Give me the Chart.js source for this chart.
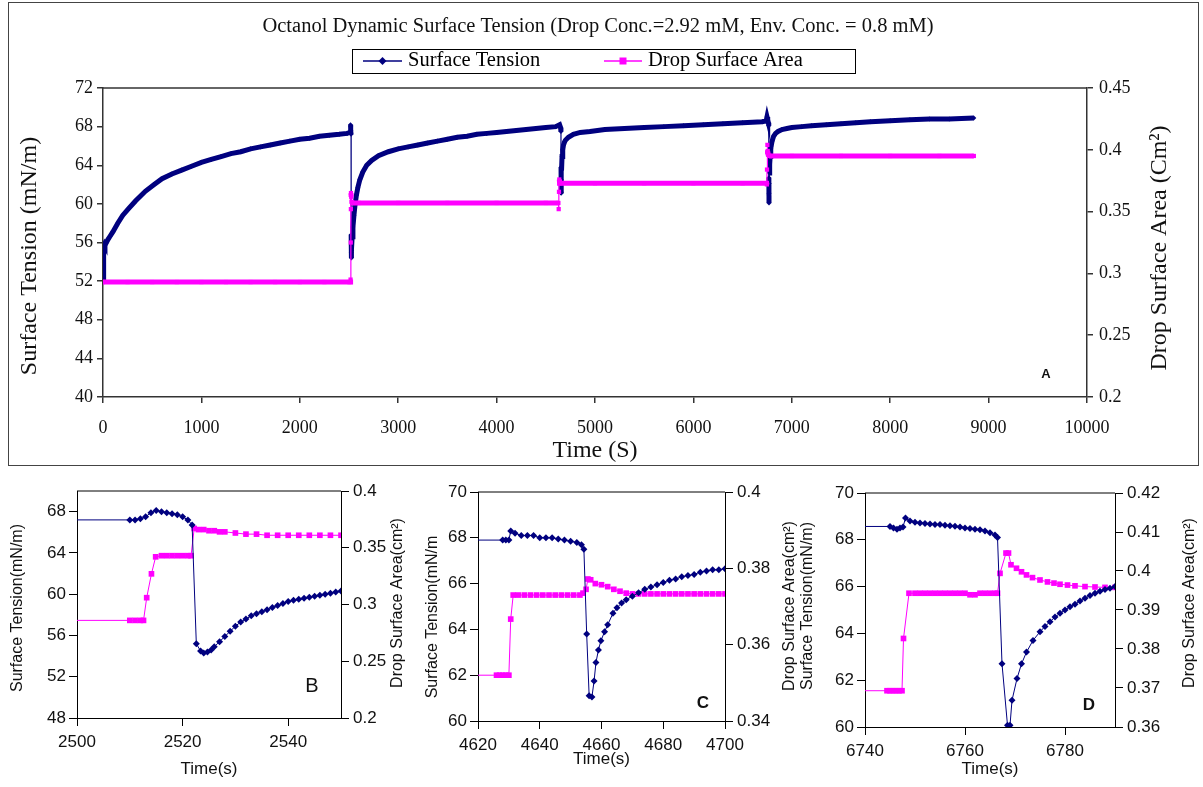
<!DOCTYPE html>
<html>
<head>
<meta charset="utf-8">
<script src="https://cdn.jsdelivr.net/npm/chart.js@4.4.1/dist/chart.umd.min.js"></script>
<style>
  html, body { margin: 0; padding: 0; background: #fff; }
  body { width: 1203px; height: 787px; position: relative; overflow: hidden; }
  #frame { position: absolute; left: 8px; top: 2px; width: 1189px; height: 462px; border: 1px solid #444; }
  canvas { position: absolute; }
</style>
</head>
<body>
<div id="frame"></div>
<canvas id="main" width="1189" height="462" style="left:9px;top:3px"></canvas>
<canvas id="panelB" width="410" height="317" style="left:0px;top:470px"></canvas>
<canvas id="panelC" width="395" height="317" style="left:410px;top:470px"></canvas>
<canvas id="panelD" width="413" height="317" style="left:790px;top:470px"></canvas>
<script>
// ---------- full run: surface tension (mN/m) and drop surface area (cm^2) vs time (s) ----------
const mainTime = [0, 3, 6, 10, 15, 20, 30, 50, 75, 100, 150, 200, 260, 330, 430, 520, 600, 700, 800, 900,
  1000, 1100, 1200, 1300, 1400, 1500, 1600, 1700, 1800, 1900, 2000, 2100, 2200, 2300, 2400, 2480,
  2512, 2515, 2517, 2519, 2521, 2522, 2523, 2524, 2527, 2532, 2540, 2550, 2560, 2575, 2590, 2610,
  2640, 2680, 2730, 2800, 2900, 3000, 3100, 3200, 3300, 3400, 3500, 3600, 3700, 3800, 3900, 4000,
  4100, 4200, 4300, 4400, 4500, 4600, 4640, 4650, 4654, 4655, 4656, 4657, 4658, 4660, 4665, 4672,
  4680, 4690, 4700, 4730, 4780, 4850, 4950, 5100, 5300, 5500, 5700, 5900, 6100, 6300, 6500, 6700,
  6740, 6748, 6755, 6762, 6766, 6767, 6768.5, 6769, 6770, 6772, 6775, 6780, 6786, 6790, 6800, 6815,
  6835, 6860, 6900, 6950, 7000, 7100, 7200, 7350, 7500, 7650, 7800, 8000, 8200, 8400, 8600, 8850];
const mainTension = [52.2, 53.3, 54.5, 55.6, 55.8, 55.7, 55.9, 56.3, 56.7, 57.1, 58.0, 58.8, 59.5, 60.3, 61.3, 62.0, 62.6, 63.1, 63.5, 63.9,
  64.3, 64.6, 64.9, 65.2, 65.4, 65.7, 65.9, 66.1, 66.3, 66.5, 66.7, 66.8, 67.0, 67.1, 67.2, 67.3,
  67.4, 68.2, 68.0, 67.6, 67.2, 56.8, 55.0, 54.4, 55.2, 56.6, 57.6, 58.8, 59.8, 60.9, 61.7, 62.5,
  63.3, 64.0, 64.5, 65.0, 65.4, 65.7, 65.9, 66.1, 66.3, 66.5, 66.7, 66.9, 67.0, 67.2, 67.3, 67.4,
  67.5, 67.6, 67.7, 67.8, 67.9, 68.0, 68.2, 67.9, 67.5, 63.8, 61.1, 61.2, 62.5, 63.5, 64.9, 65.6,
  66.1, 66.4, 66.6, 66.9, 67.2, 67.4, 67.5, 67.7, 67.8, 67.9, 68.0, 68.1, 68.2, 68.3, 68.4, 68.5,
  68.6, 69.0, 68.7, 68.4, 68.1, 62.7, 60.1, 61.1, 62.1, 63.2, 64.1, 64.9, 65.7, 66.0, 66.5, 67.0,
  67.3, 67.5, 67.7, 67.8, 67.9, 68.0, 68.1, 68.2, 68.3, 68.4, 68.5, 68.6, 68.7, 68.8, 68.8, 68.9];

const mainAreaTime = [0, 250, 500, 750, 1000, 1250, 1500, 1750, 2000, 2250, 2500, 2514, 2516, 2518, 2519,
  2520, 2522, 2525, 2540, 2600, 3000, 3500, 4000, 4500, 4628, 4631, 4634, 4637, 4640, 4660, 5000,
  5500, 6000, 6500, 6745, 6747, 6748, 6750, 6752, 6755, 6760, 6780, 7000, 7500, 8000, 8500, 8850];
const mainArea = [0.293, 0.293, 0.293, 0.293, 0.293, 0.293, 0.293, 0.293, 0.293, 0.293, 0.293, 0.293, 0.295, 0.325, 0.352,
  0.365, 0.362, 0.358, 0.357, 0.357, 0.357, 0.357, 0.357, 0.357, 0.357, 0.352, 0.366, 0.376, 0.373, 0.373, 0.373,
  0.373, 0.373, 0.373, 0.373, 0.372, 0.384, 0.398, 0.404, 0.399, 0.396, 0.395, 0.395, 0.395, 0.395, 0.395, 0.395];

const mainTimeTicks = [0, 1000, 2000, 3000, 4000, 5000, 6000, 7000, 8000, 9000, 10000];
const mainTensionTicks = [40, 44, 48, 52, 56, 60, 64, 68, 72];
const mainAreaTicks = [0.2, 0.25, 0.3, 0.35, 0.4, 0.45];

// ---------- B: first expansion, around 2520 s ----------
const bTime = [2500, 2510, 2511, 2512, 2513, 2514, 2515, 2516, 2517, 2518, 2519, 2520, 2521, 2521.8, 2522.6,
  2523.4, 2524, 2524.7, 2525.4, 2526, 2527, 2528, 2529, 2530, 2531, 2532, 2533, 2534, 2535, 2536, 2537,
  2538, 2539, 2540, 2541, 2542, 2543, 2544, 2545, 2546, 2547, 2548, 2549, 2550];
const bTension = [67.2, 67.2, 67.2, 67.3, 67.5, 67.9, 68.1, 68.0, 67.9, 67.8, 67.7, 67.5, 67.2, 66.7, 55.2,
  54.5, 54.3, 54.4, 54.6, 54.9, 55.4, 55.9, 56.4, 56.9, 57.3, 57.6, 57.9, 58.1, 58.3, 58.5, 58.7,
  58.9, 59.1, 59.3, 59.4, 59.5, 59.6, 59.7, 59.8, 59.9, 60.0, 60.1, 60.2, 60.3];
const bAreaTime = [2500, 2510, 2511, 2512, 2512.6, 2513.2, 2514.1, 2514.9, 2516, 2517, 2518, 2519, 2520, 2521,
  2521.6, 2522.2, 2523, 2524, 2525, 2526, 2527, 2528, 2530, 2532, 2534, 2536, 2538, 2540, 2542, 2544,
  2546, 2548, 2550];
const bArea = [0.286, 0.286, 0.286, 0.286, 0.286, 0.306, 0.327, 0.342, 0.343, 0.343, 0.343, 0.343, 0.343, 0.343,
  0.343, 0.367, 0.366, 0.366, 0.365, 0.365, 0.364, 0.364, 0.363, 0.362, 0.362, 0.361, 0.361, 0.361, 0.361, 0.361,
  0.361, 0.361, 0.361];
const bTimeTicks = [2500, 2520, 2540];
const bTensionTicks = [48, 52, 56, 60, 64, 68];
const bAreaTicks = [0.2, 0.25, 0.3, 0.35, 0.4];

// ---------- C: second expansion, around 4655 s ----------
const cTime = [4620, 4628, 4629, 4630, 4630.6, 4632, 4634, 4636, 4638, 4640, 4642, 4644, 4646, 4648, 4650,
  4652, 4653.5, 4654.3, 4655.2, 4656, 4656.9, 4657.6, 4658.2, 4659, 4659.8, 4661, 4662, 4663.7, 4665,
  4666.5, 4668, 4670, 4672, 4674, 4676, 4678, 4680, 4682, 4684, 4686, 4688, 4690, 4692, 4694, 4696,
  4698, 4700];
const cTension = [67.9, 67.9, 67.9, 67.9, 68.3, 68.2, 68.1, 68.1, 68.1, 68.0, 68.0, 68.0, 67.95, 67.9, 67.85,
  67.8, 67.7, 67.5, 63.8, 61.1, 61.05, 61.75, 62.55, 63.1, 63.5, 63.9, 64.2, 64.7, 64.95,
  65.15, 65.3, 65.45, 65.6, 65.75, 65.85, 65.95, 66.05, 66.15, 66.2, 66.3, 66.35, 66.4, 66.5, 66.55, 66.6,
  66.6, 66.65];
const cAreaTime = [4620, 4626, 4627, 4628, 4629, 4630, 4630.6, 4631.4, 4633, 4635, 4637, 4639, 4641, 4643, 4645,
  4647, 4649, 4651, 4653, 4654, 4655, 4655.6, 4656.5, 4658, 4660, 4662, 4664, 4666, 4668, 4670, 4672,
  4674, 4676, 4678, 4680, 4682, 4684, 4686, 4688, 4690, 4692, 4694, 4696, 4698, 4700];
const cArea = [0.352, 0.352, 0.352, 0.352, 0.352, 0.352, 0.3667, 0.373, 0.373, 0.373, 0.373, 0.373, 0.373, 0.373, 0.373,
  0.373, 0.373, 0.373, 0.373, 0.3735, 0.3745, 0.3772, 0.377, 0.376, 0.3757, 0.3752, 0.3745, 0.374, 0.3735, 0.3733, 0.3733,
  0.3733, 0.3733, 0.3733, 0.3733, 0.3733, 0.3733, 0.3733, 0.3733, 0.3733, 0.3733, 0.3733, 0.3733, 0.3733, 0.3733];
const cTimeTicks = [4620, 4640, 4660, 4680, 4700];
const cTensionTicks = [60, 62, 64, 66, 68, 70];
const cAreaTicks = [0.34, 0.36, 0.38, 0.4];

// ---------- D: third expansion, around 6768 s ----------
const dTime = [6740, 6745, 6745.7, 6746.4, 6747, 6747.6, 6748.1, 6749, 6750, 6751, 6752, 6753, 6754, 6755, 6756,
  6757, 6758, 6759, 6760, 6761, 6762, 6763, 6764, 6765, 6766, 6766.5, 6767.4, 6768.5, 6769, 6769.4, 6770.4,
  6771.3, 6772.3, 6773.6, 6775, 6776, 6777, 6778, 6779, 6780, 6781, 6782, 6783, 6784, 6785, 6786, 6787,
  6788, 6789, 6790];
const dTension = [68.57, 68.57, 68.5, 68.45, 68.5, 68.55, 68.93, 68.8, 68.75, 68.72, 68.7, 68.67, 68.65, 68.65, 68.62,
  68.6, 68.58, 68.55, 68.5, 68.48, 68.45, 68.43, 68.38, 68.3, 68.2, 68.1, 62.7, 60.07, 60.07, 61.14, 62.07,
  62.7, 63.2, 63.7, 64.07, 64.3, 64.5, 64.7, 64.86, 65.0, 65.14, 65.25, 65.38, 65.5, 65.62, 65.72, 65.8,
  65.88, 65.93, 66.0];
const dAreaTime = [6740, 6744.4, 6745, 6745.6, 6746.2, 6746.8, 6747.4, 6747.7, 6748.8, 6750, 6751, 6752, 6753, 6754,
  6755, 6756, 6757, 6758, 6759, 6760, 6761, 6762, 6763, 6764, 6765, 6766, 6766.5, 6767, 6768.2, 6768.7,
  6769.2, 6770.3, 6771.3, 6772.3, 6773.5, 6775, 6776.5, 6777.8, 6779, 6780.5, 6782, 6784, 6786, 6788, 6790];
const dArea = [0.3693, 0.3693, 0.3693, 0.3693, 0.3693, 0.3693, 0.3693, 0.3827, 0.3943, 0.3943, 0.3943, 0.3943, 0.3943, 0.3943,
  0.3943, 0.3943, 0.3943, 0.3943, 0.3943, 0.3943, 0.3939, 0.3939, 0.3943, 0.3943, 0.3943, 0.3943, 0.3943, 0.3994, 0.4046, 0.4046,
  0.4016, 0.4007, 0.3998, 0.399, 0.3983, 0.3977, 0.3972, 0.3969, 0.3966, 0.3964, 0.3962, 0.396, 0.3959, 0.3958, 0.3958];
const dTimeTicks = [6740, 6760, 6780];
const dTensionTicks = [60, 62, 64, 66, 68, 70];
const dAreaTicks = [0.36, 0.37, 0.38, 0.39, 0.4, 0.41, 0.42];

// ---------- shared helpers ----------
const SERIF = "'Liberation Serif', 'Times New Roman', serif";
const SANS = "'Liberation Sans', Arial, sans-serif";
const NAVY = '#00007f';
const MAGENTA = '#ff00ff';

const toPoints = (xs, ys) => xs.map((x, i) => ({ x, y: ys[i] }));
const fixedTicks = list => scale => { scale.ticks = list.map(value => ({ value })); };
const trimNum = v => String(Number(v.toFixed(2)));

function drawLegend(ctx, chart, L) {
  ctx.strokeStyle = '#000';
  ctx.lineWidth = 1;
  ctx.strokeRect(L.box[0] + 0.5, L.box[1] + 0.5, L.box[2], L.box[3]);
  L.items.forEach(it => {
    const ds = chart.data.datasets[it.dataset];
    ctx.strokeStyle = ds.borderColor;
    ctx.lineWidth = 1.5;
    ctx.beginPath();
    ctx.moveTo(it.x0, L.y);
    ctx.lineTo(it.x1, L.y);
    ctx.stroke();
    const cx = (it.x0 + it.x1) / 2;
    ctx.fillStyle = ds.borderColor;
    ctx.beginPath();
    if (ds.pointStyle === 'rectRot') {
      ctx.moveTo(cx, L.y - 4); ctx.lineTo(cx + 4, L.y); ctx.lineTo(cx, L.y + 4); ctx.lineTo(cx - 4, L.y);
      ctx.closePath();
    } else {
      ctx.rect(cx - 3.5, L.y - 3.5, 7, 7);
    }
    ctx.fill();
    ctx.fillStyle = '#000';
    ctx.font = L.font;
    ctx.textAlign = 'left';
    ctx.textBaseline = 'middle';
    ctx.fillText(ds.label, it.x1 + 6, L.y);
  });
}

// closes the plot box along the top, writes axis titles read bottom-to-top, captions and legend
const decor = {
  id: 'decor',
  afterDraw(chart, args, o) {
    const { ctx, chartArea: a } = chart;
    ctx.save();
    ctx.strokeStyle = o.axisColor;
    ctx.lineWidth = o.axisWidth;
    ctx.beginPath();
    ctx.moveTo(a.left, a.top);
    ctx.lineTo(a.right, a.top);
    ctx.stroke();
    (o.texts || []).forEach(t => {
      ctx.save();
      ctx.font = t.font;
      ctx.fillStyle = t.color || '#111';
      ctx.textAlign = 'center';
      ctx.textBaseline = 'middle';
      ctx.translate(t.x, t.y);
      if (t.upright) ctx.rotate(-Math.PI / 2);
      ctx.fillText(t.text, 0, 0);
      ctx.restore();
    });
    if (o.legend) drawLegend(ctx, chart, o.legend);
    ctx.restore();
  }
};

function axis(opts) {
  return {
    type: 'linear',
    position: opts.position,
    min: opts.min,
    max: opts.max,
    afterBuildTicks: fixedTicks(opts.ticks),
    afterFit: opts.horizontal ? (s => { s.height = opts.size; }) : (s => { s.width = opts.size; }),
    grid: { drawOnChartArea: false, drawTicks: true, tickLength: opts.tickLength, color: opts.color, lineWidth: opts.lineWidth },
    border: { display: true, color: opts.color, width: opts.lineWidth },
    ticks: {
      autoSkip: false, maxRotation: 0, font: opts.tickFont, color: '#111', padding: opts.tickPad,
      callback: opts.format
    },
    title: opts.title
      ? { display: true, text: opts.title, font: opts.titleFont, color: '#111', padding: 0 }
      : { display: false }
  };
}

// ---------- A: full run ----------
new Chart(document.getElementById('main'), {
  type: 'line',
  data: {
    datasets: [
      {
        label: 'Surface Tension', data: toPoints(mainTime, mainTension), yAxisID: 'y', order: 1,
        borderColor: NAVY, backgroundColor: NAVY, borderWidth: 5, pointStyle: 'rectRot', pointRadius: 2.5,
        pointBorderWidth: 0, pointBackgroundColor: NAVY,
        segment: {
          borderWidth: c => {
            const dy = c.p1.parsed.y - c.p0.parsed.y;
            const dt = c.p1.parsed.x - c.p0.parsed.x;
            return (dy < -3 || (dy >= 0.95 && dt <= 2)) ? 1.2 : 5;
          }
        }
      },
      {
        label: 'Drop Surface Area', data: toPoints(mainAreaTime, mainArea), yAxisID: 'y2', order: 0,
        borderColor: MAGENTA, backgroundColor: MAGENTA, borderWidth: 5, pointStyle: 'rect', pointRadius: 3,
        pointBorderWidth: 0, pointBackgroundColor: MAGENTA,
        segment: { borderWidth: c => (Math.abs(c.p1.parsed.y - c.p0.parsed.y) > 0.004 ? 1.2 : 5) }
      }
    ]
  },
  options: {
    responsive: false, animation: false, devicePixelRatio: 1,
    layout: { padding: { top: 85, left: 7, right: 24, bottom: 0 } },
    plugins: {
      legend: { display: false }, tooltip: { enabled: false },
      decor: {
        axisColor: '#333', axisWidth: 1.5,
        texts: [
          { text: 'Octanol Dynamic Surface Tension (Drop Conc.=2.92 mM, Env. Conc. = 0.8 mM)', x: 589, y: 24, font: `20.5px ${SERIF}` },
          { text: 'Surface Tension (mN/m)', x: 21, y: 253, upright: true, font: `24px ${SERIF}` },
          { text: 'Drop Surface Area (Cm²)', x: 1151, y: 245, upright: true, font: `24px ${SERIF}` },
          { text: 'A', x: 1037, y: 371, font: `bold 13px ${SANS}` }
        ],
        legend: {
          box: [343, 46, 503, 24], y: 58, font: `20.5px ${SERIF}`,
          items: [{ dataset: 0, x0: 354, x1: 393 }, { dataset: 1, x0: 595, x1: 633 }]
        }
      }
    },
    scales: {
      x: axis({ position: 'bottom', horizontal: true, size: 68, min: 0, max: 10000, ticks: mainTimeTicks,
        tickLength: 6, tickPad: 14, color: '#333', lineWidth: 1.5, tickFont: { family: SERIF, size: 18 },
        format: v => String(v), title: 'Time (S)', titleFont: { family: SERIF, size: 24 } }),
      y: axis({ position: 'left', size: 87, min: 40, max: 72, ticks: mainTensionTicks,
        tickLength: 6, tickPad: 4, color: '#333', lineWidth: 1.5, tickFont: { family: SERIF, size: 18 },
        format: v => String(v) }),
      y2: axis({ position: 'right', size: 87, min: 0.2, max: 0.45, ticks: mainAreaTicks,
        tickLength: 6, tickPad: 6, color: '#333', lineWidth: 1.5, tickFont: { family: SERIF, size: 18 },
        format: trimNum })
    }
  },
  plugins: [decor]
});

// ---------- B, C, D: close-ups of each expansion ----------
function panel(id, p) {
  const tickFont = { family: SANS, size: 17 };
  const titleFont = `16px ${SANS}`;
  const common = { tickLength: 8, color: '#000', lineWidth: 1, tickFont };
  return new Chart(document.getElementById(id), {
    type: 'line',
    data: {
      datasets: [
        {
          label: 'Surface Tension', data: toPoints(p.time, p.tension), yAxisID: 'y', order: 0,
          borderColor: NAVY, backgroundColor: NAVY, borderWidth: 1, pointStyle: 'rectRot',
          pointRadius: c => (c.dataIndex === 0 ? 0 : 3.5), pointBorderWidth: 0, pointBackgroundColor: NAVY
        },
        {
          label: 'Drop Surface Area', data: toPoints(p.areaTime, p.area), yAxisID: 'y2', order: 1,
          borderColor: MAGENTA, backgroundColor: MAGENTA, borderWidth: 1, pointStyle: 'rect',
          pointRadius: c => (c.dataIndex === 0 ? 0 : 4), pointBorderWidth: 0, pointBackgroundColor: MAGENTA
        }
      ]
    },
    options: {
      responsive: false, animation: false, devicePixelRatio: 1,
      layout: { padding: p.pad },
      plugins: {
        legend: { display: false }, tooltip: { enabled: false },
        decor: {
          axisColor: '#000', axisWidth: 1,
          texts: [
            p.tag,
            { text: p.yTitle, x: p.yTitleAt[0], y: p.yTitleAt[1], upright: true, font: titleFont },
            { text: 'Drop Surface Area(cm²)', x: p.y2TitleAt[0], y: p.y2TitleAt[1], upright: true, font: titleFont }
          ]
        }
      },
      scales: {
        x: axis(Object.assign({}, common, { position: 'bottom', horizontal: true, size: p.xSize, min: p.xMin, max: p.xMax,
          ticks: p.xTicks, tickPad: 6, format: v => String(v), title: 'Time(s)', titleFont: { family: SANS, size: 17 } })),
        y: axis(Object.assign({}, common, { position: 'left', size: p.ySize, min: p.yMin, max: p.yMax,
          ticks: p.yTicks, tickPad: 3, format: v => String(v) })),
        y2: axis(Object.assign({}, common, { position: 'right', size: p.y2Size, min: p.y2Min, max: p.y2Max,
          ticks: p.y2Ticks, tickPad: 4, format: trimNum }))
      }
    },
    plugins: [decor]
  });
}

panel('panelB', {
  time: bTime, tension: bTension, areaTime: bAreaTime, area: bArea,
  xMin: 2500, xMax: 2550, xTicks: bTimeTicks, yMin: 48, yMax: 70, yTicks: bTensionTicks,
  y2Min: 0.2, y2Max: 0.4, y2Ticks: bAreaTicks, yTitle: 'Surface Tension(mN/m)',
  yTitleAt: [18, 138], y2TitleAt: [398, 133],
  pad: { top: 21, left: 8, right: 2, bottom: 7 }, ySize: 69, y2Size: 67, xSize: 62,
  tag: { text: 'B', x: 312, y: 216, font: `20px ${SANS}` }
});

panel('panelC', {
  time: cTime, tension: cTension, areaTime: cAreaTime, area: cArea,
  xMin: 4620, xMax: 4700, xTicks: cTimeTicks, yMin: 60, yMax: 70, yTicks: cTensionTicks,
  y2Min: 0.34, y2Max: 0.4, y2Ticks: cAreaTicks, yTitle: 'Surface Tension(mN/m',
  yTitleAt: [23, 147], y2TitleAt: [380, 136],
  pad: { top: 22, left: 13, right: 5, bottom: 17 }, ySize: 55, y2Size: 75, xSize: 49,
  tag: { text: 'C', x: 293, y: 233, font: `bold 17px ${SANS}` }
});

panel('panelD', {
  time: dTime, tension: dTension, areaTime: dAreaTime, area: dArea,
  xMin: 6740, xMax: 6790, xTicks: dTimeTicks, yMin: 60, yMax: 70, yTicks: dTensionTicks,
  y2Min: 0.36, y2Max: 0.42, y2Ticks: dAreaTicks, yTitle: 'Surface Tension(mN/m)',
  yTitleAt: [18, 136], y2TitleAt: [400, 133],
  pad: { top: 23, left: 8, right: 3, bottom: 7 }, ySize: 67, y2Size: 85, xSize: 53,
  tag: { text: 'D', x: 299, y: 235, font: `bold 17px ${SANS}` }
});
</script>
</body>
</html>
